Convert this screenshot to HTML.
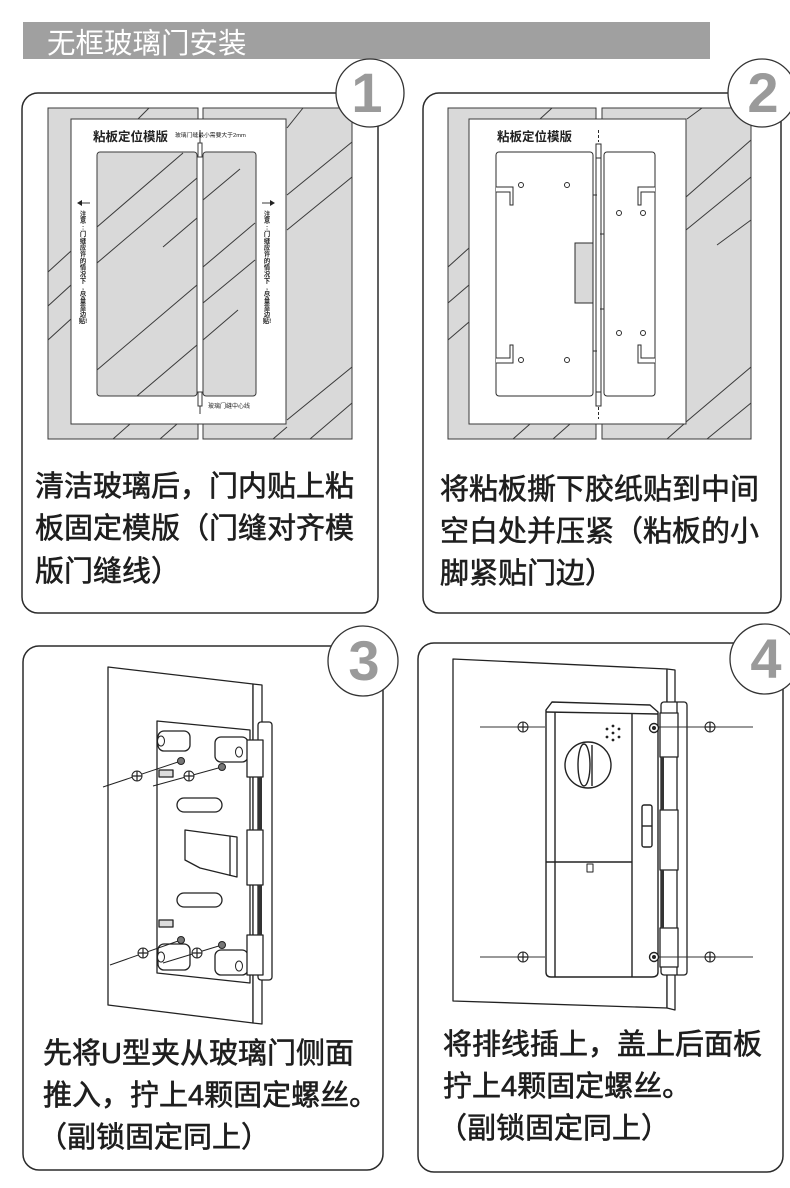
<!DOCTYPE html>
<html><head><meta charset="utf-8">
<style>
html,body{margin:0;padding:0;background:#fff;}
svg{display:block;}
.t{font-family:"Liberation Sans","Noto Sans CJK SC",sans-serif;font-size:29px;fill:#1e1e1e;stroke:#1e1e1e;stroke-width:0.6;}
.num{font-family:"Liberation Sans",sans-serif;font-weight:bold;font-size:56px;fill:#9a9a9a;text-anchor:middle;}
.sm{font-family:"Liberation Sans","Noto Sans CJK SC",sans-serif;fill:#222;}
</style></head><body>
<svg width="790" height="1188" viewBox="0 0 790 1188" xmlns="http://www.w3.org/2000/svg">
<rect width="790" height="1188" fill="#fff"/>

<!-- Header -->
<rect x="23" y="22" width="687" height="37" fill="#a0a0a0"/>
<text x="47" y="53" font-size="28.5" fill="#fff" font-family="Liberation Sans, Noto Sans CJK SC, sans-serif">无框玻璃门安装</text>

<!-- ============ PANEL 1 drawing ============ -->
<g stroke="#3a3a3a" stroke-width="1">
  <rect x="48" y="108" width="150" height="331" fill="#d9d9d9"/>
  <rect x="203" y="108" width="149" height="331" fill="#d9d9d9"/>
</g>
<g stroke="#3a3a3a" stroke-width="1" fill="none">
  <line x1="138" y1="119" x2="149" y2="108"/>
  <line x1="287" y1="128" x2="303" y2="108"/>
  <line x1="287" y1="195" x2="352" y2="142"/>
  <line x1="287" y1="230" x2="352" y2="177"/>
  <line x1="287" y1="420" x2="352" y2="367"/>
  <line x1="310" y1="439" x2="352" y2="403"/>
  <line x1="273" y1="439" x2="287" y2="427"/>
  <line x1="48" y1="272" x2="71" y2="251"/>
  <line x1="48" y1="306" x2="71" y2="285"/>
  <line x1="48" y1="340" x2="71" y2="319"/>
  <line x1="113" y1="439" x2="130" y2="424"/>
  <line x1="160" y1="439" x2="177" y2="424"/>
</g>
<rect x="71" y="119" width="215" height="305" fill="#fff" stroke="#3a3a3a" stroke-width="1"/>
<g stroke="#3a3a3a" stroke-width="1" fill="#d9d9d9">
  <rect x="97" y="152" width="100" height="244" rx="3"/>
  <rect x="203" y="152" width="53" height="244" rx="3"/>
</g>
<g stroke="#3a3a3a" stroke-width="1" fill="none">
  <line x1="97" y1="227" x2="183" y2="153"/>
  <line x1="97" y1="263" x2="197" y2="178"/>
  <line x1="163" y1="247" x2="197" y2="218"/>
  <line x1="97" y1="370" x2="197" y2="285"/>
  <line x1="137" y1="396" x2="197" y2="345"/>
  <line x1="203" y1="267" x2="255" y2="223"/>
  <line x1="203" y1="303" x2="255" y2="260"/>
  <line x1="203" y1="340" x2="238" y2="310"/>
  <line x1="203" y1="200" x2="240" y2="169"/>
  <line x1="200" y1="130" x2="200" y2="143"/>
  <rect x="198" y="143" width="4" height="14" fill="#fff"/>
  <rect x="198" y="392" width="4" height="14" fill="#fff"/>
  <line x1="200" y1="406" x2="200" y2="414"/>
  <line x1="79" y1="203" x2="90" y2="203"/>
  <line x1="262" y1="203" x2="273" y2="203"/>
</g>
<path d="M77,203 L82,200 L82,206 Z" fill="#222"/>
<path d="M275,203 L270,200 L270,206 Z" fill="#222"/>
<text class="sm" x="93" y="141" font-size="12.5" font-weight="bold">粘板定位模版</text>
<text class="sm" x="175" y="137" font-size="5.8">玻璃门缝最小需要大于2mm</text>
<text class="sm" x="208" y="408" font-size="6">玻璃门缝中心线</text>
<text class="sm" font-size="6.3" font-weight="bold" text-anchor="middle">
  <tspan x="83" y="216">注</tspan><tspan x="83" dy="6.7">意</tspan><tspan x="83" dy="6.7">:</tspan><tspan x="83" dy="6.7">门</tspan><tspan x="83" dy="6.7">缝</tspan><tspan x="83" dy="6.7">应</tspan><tspan x="83" dy="6.7">许</tspan><tspan x="83" dy="6.7">的</tspan><tspan x="83" dy="6.7">情</tspan><tspan x="83" dy="6.7">况</tspan><tspan x="83" dy="6.7">下</tspan><tspan x="83" dy="6.7">,</tspan><tspan x="83" dy="6.7">尽</tspan><tspan x="83" dy="6.7">量</tspan><tspan x="83" dy="6.7">靠</tspan><tspan x="83" dy="6.7">边</tspan><tspan x="83" dy="6.7">贴!</tspan>
</text>
<text class="sm" font-size="6.3" font-weight="bold" text-anchor="middle">
  <tspan x="267" y="216">注</tspan><tspan x="267" dy="6.7">意</tspan><tspan x="267" dy="6.7">:</tspan><tspan x="267" dy="6.7">门</tspan><tspan x="267" dy="6.7">缝</tspan><tspan x="267" dy="6.7">应</tspan><tspan x="267" dy="6.7">许</tspan><tspan x="267" dy="6.7">的</tspan><tspan x="267" dy="6.7">情</tspan><tspan x="267" dy="6.7">况</tspan><tspan x="267" dy="6.7">下</tspan><tspan x="267" dy="6.7">,</tspan><tspan x="267" dy="6.7">尽</tspan><tspan x="267" dy="6.7">量</tspan><tspan x="267" dy="6.7">靠</tspan><tspan x="267" dy="6.7">边</tspan><tspan x="267" dy="6.7">贴!</tspan>
</text>

<!-- ============ PANEL 2 drawing ============ -->
<g stroke="#3a3a3a" stroke-width="1">
  <rect x="448" y="108" width="148" height="331" fill="#d9d9d9"/>
  <rect x="602" y="108" width="149" height="331" fill="#d9d9d9"/>
</g>
<g stroke="#3a3a3a" stroke-width="1" fill="none">
  <line x1="448" y1="267" x2="469" y2="248"/>
  <line x1="448" y1="303" x2="469" y2="285"/>
  <line x1="448" y1="340" x2="469" y2="322"/>
  <line x1="540" y1="119" x2="552" y2="108"/>
  <line x1="513" y1="439" x2="530" y2="424"/>
  <line x1="553" y1="439" x2="570" y2="424"/>
  <line x1="687" y1="119" x2="702" y2="108"/>
  <line x1="686" y1="197" x2="751" y2="140"/>
  <line x1="686" y1="230" x2="751" y2="177"/>
  <line x1="717" y1="245" x2="751" y2="220"/>
  <line x1="667" y1="439" x2="684" y2="424"/>
  <line x1="686" y1="422" x2="751" y2="367"/>
  <line x1="707" y1="439" x2="751" y2="403"/>
</g>
<rect x="469" y="119" width="217" height="305" fill="#fff" stroke="#3a3a3a" stroke-width="1"/>
<text class="sm" x="497" y="141" font-size="12.5" font-weight="bold">粘板定位模版</text>
<g stroke="#2b2b2b" stroke-width="1" fill="#fff">
  <rect x="496" y="152" width="97" height="244" rx="3"/>
  <rect x="575" y="243" width="18" height="60" fill="#d9d9d9"/>
  <rect x="604" y="152" width="51" height="244" rx="3"/>
</g>
<g stroke="#2b2b2b" stroke-width="1" fill="none">
  <polyline points="496,187 513,187 513,205 510,205 510,192 496,192" fill="#fff"/>
  <polyline points="496,363 513,363 513,345 510,345 510,358 496,358" fill="#fff"/>
  <polyline points="655,187 638,187 638,205 641,205 641,192 655,192" fill="#fff"/>
  <polyline points="655,363 638,363 638,345 641,345 641,358 655,358" fill="#fff"/>
  <circle cx="521" cy="185" r="2.5"/><circle cx="567" cy="185" r="2.5"/>
  <circle cx="521" cy="360" r="2.5"/><circle cx="567" cy="360" r="2.5"/>
  <circle cx="619" cy="213" r="2.5"/><circle cx="643" cy="213" r="2.5"/>
  <circle cx="619" cy="333" r="2.5"/><circle cx="643" cy="333" r="2.5"/>
  <line x1="596" y1="158" x2="596" y2="392"/>
  <line x1="601" y1="158" x2="601" y2="392"/>
  <line x1="593" y1="195" x2="597" y2="195"/>
  <line x1="600" y1="234" x2="604" y2="234"/>
  <line x1="600" y1="309" x2="604" y2="309"/>
  <line x1="593" y1="351" x2="597" y2="351"/>
  <rect x="596" y="144" width="5" height="14" fill="#fff"/>
  <rect x="596" y="392" width="5" height="14" fill="#fff"/>
  <line x1="598.5" y1="130" x2="598.5" y2="142" stroke-dasharray="3,2"/>
  <line x1="598.5" y1="407" x2="598.5" y2="419" stroke-dasharray="3,2"/>
</g>

<!-- ============ PANEL 3 drawing ============ -->
<g stroke="#222" stroke-width="1.3" fill="#fff" stroke-linejoin="round">
  <polygon points="108,667 253,684 253,1023 108,1005"/>
  <polygon points="253,684 262,685 262,1024 253,1023"/>
  <polygon points="157,721 250,730 250,983 157,973"/>
  <rect x="158" y="731" width="32" height="20" rx="6"/>
  <rect x="215" y="737" width="33" height="25" rx="6"/>
  <rect x="158" y="944" width="32" height="26" rx="6"/>
  <rect x="215" y="950" width="33" height="25" rx="6"/>
  <rect x="177" y="798" width="45" height="14" rx="7"/>
  <rect x="177" y="893" width="45" height="14" rx="7"/>
  <polygon points="185,830 237,837 237,877 200,868 185,860"/>
  <line x1="230" y1="836" x2="230" y2="876"/>
  <rect x="159" y="770" width="14" height="7" fill="#ddd"/>
  <rect x="159" y="920" width="14" height="7" fill="#ddd"/>
  <rect x="258" y="722" width="14" height="258" rx="3"/>
  <rect x="247" y="740" width="16" height="37"/>
  <rect x="247" y="830" width="16" height="55"/>
  <rect x="247" y="935" width="16" height="40"/>
</g>
<g fill="#333">
  <rect x="258" y="777" width="4" height="53"/>
  <rect x="258" y="885" width="4" height="50"/>
</g>
<g stroke="#222" stroke-width="1" fill="#fff">
  <ellipse cx="161" cy="741" rx="3.5" ry="5"/><ellipse cx="239" cy="752" rx="3.5" ry="5"/>
  <ellipse cx="161" cy="957" rx="3.5" ry="5"/><ellipse cx="239" cy="966" rx="3.5" ry="5"/>
  <line x1="103" y1="787" x2="181" y2="761"/>
  <line x1="153" y1="786" x2="222" y2="767"/>
  <line x1="110" y1="965" x2="181" y2="940"/>
  <line x1="163" y1="963" x2="222" y2="945"/>
  <circle cx="181" cy="761" r="3.5" fill="#777"/>
  <circle cx="222" cy="767" r="3.5" fill="#777"/>
  <circle cx="181" cy="940" r="3.5" fill="#777"/>
  <circle cx="222" cy="945" r="3.5" fill="#777"/>
  <circle cx="137" cy="776" r="5"/><circle cx="189" cy="776" r="5"/>
  <circle cx="143" cy="953" r="5"/><circle cx="197" cy="953" r="5"/>
</g>
<g stroke="#222" stroke-width="1.2">
  <path d="M132,776 H142 M137,771 V781"/>
  <path d="M184,776 H194 M189,771 V781"/>
  <path d="M138,953 H148 M143,948 V958"/>
  <path d="M192,953 H202 M197,948 V958"/>
</g>

<!-- ============ PANEL 4 drawing ============ -->
<g stroke="#222" stroke-width="1.3" fill="#fff" stroke-linejoin="round">
  <polygon points="453,659 667,669 667,1008 453,1001"/>
  <polygon points="667,669 675,670 675,1010 667,1008"/>
  <rect x="661" y="702" width="26" height="273" rx="3"/>
  <line x1="677" y1="702" x2="677" y2="975"/>
  <rect x="660" y="713" width="18" height="44"/>
  <rect x="660" y="810" width="18" height="60"/>
  <rect x="660" y="928" width="18" height="39"/>
</g>
<g fill="#333">
  <rect x="661" y="757" width="3" height="53"/>
  <rect x="661" y="870" width="3" height="58"/>
</g>
<g stroke="#222" stroke-width="1.4" fill="#fff" stroke-linejoin="round">
  <path d="M546,710 L552,702 L650,705 L658,712 L658,972 Q658,977 652,977 L551,977 Q546,977 546,972 Z"/>
  <line x1="546" y1="712" x2="658" y2="714"/>
  <line x1="555" y1="712" x2="555" y2="977"/>
  <line x1="632" y1="714" x2="632" y2="977"/>
  <line x1="546" y1="862" x2="632" y2="862"/>
  <circle cx="588" cy="765" r="23"/>
  <ellipse cx="584" cy="765" rx="6" ry="21"/>
  <line x1="592" y1="745" x2="592" y2="786"/>
  <rect x="642" y="805" width="10" height="42" rx="2"/>
  <line x1="642" y1="826" x2="652" y2="826"/>
  <circle cx="654" cy="728" r="4.5"/>
  <circle cx="654" cy="957" r="4.5"/>
  <rect x="587" y="864" width="6" height="8" stroke-width="1"/>
</g>
<g fill="#222">
  <circle cx="613" cy="733" r="1.4"/>
  <circle cx="613" cy="726" r="1.4"/><circle cx="613" cy="740" r="1.4"/>
  <circle cx="607" cy="729" r="1.4"/><circle cx="619" cy="729" r="1.4"/>
  <circle cx="607" cy="737" r="1.4"/><circle cx="619" cy="737" r="1.4"/>
  <circle cx="654" cy="728" r="2"/><circle cx="654" cy="957" r="2"/>
</g>
<g stroke="#333" stroke-width="1">
  <line x1="480" y1="727" x2="545" y2="727"/>
  <line x1="480" y1="957" x2="545" y2="957"/>
  <line x1="659" y1="727" x2="753" y2="727"/>
  <line x1="659" y1="957" x2="753" y2="957"/>
</g>
<g stroke="#222" stroke-width="1" fill="#fff">
  <circle cx="523" cy="727" r="5"/><circle cx="523" cy="957" r="5"/>
  <circle cx="710" cy="727" r="5"/><circle cx="710" cy="957" r="5"/>
</g>
<g stroke="#222" stroke-width="1.2">
  <path d="M518,727 H528 M523,722 V732"/>
  <path d="M518,957 H528 M523,952 V962"/>
  <path d="M705,727 H715 M710,722 V732"/>
  <path d="M705,957 H715 M710,952 V962"/>
</g>

<!-- ============ Panel frames ============ -->
<g fill="none" stroke="#2b2b2b" stroke-width="1.5">
  <rect x="22" y="93" width="356" height="520" rx="16"/>
  <rect x="423" y="93" width="358" height="520" rx="16"/>
  <rect x="23" y="646" width="360" height="524" rx="16"/>
  <rect x="418" y="643" width="365" height="529" rx="16"/>
</g>

<!-- Number circles -->
<g fill="#fff" stroke="#333" stroke-width="1.3">
  <circle cx="370" cy="93" r="34"/>
  <circle cx="762" cy="93" r="34"/>
  <circle cx="363" cy="661" r="35"/>
  <circle cx="765" cy="659" r="35"/>
</g>
<text class="num" x="367" y="112">1</text>
<text class="num" x="763" y="112">2</text>
<text class="num" x="364" y="680">3</text>
<text class="num" x="766" y="678">4</text>

<!-- Captions -->
<text class="t" x="35" y="496">清洁玻璃后，门内贴上粘</text>
<text class="t" x="35" y="538">板固定模版（门缝对齐模</text>
<text class="t" x="35" y="581">版门缝线）</text>

<text class="t" x="440" y="499">将粘板撕下胶纸贴到中间</text>
<text class="t" x="440" y="541">空白处并压紧（粘板的小</text>
<text class="t" x="440" y="583">脚紧贴门边）</text>

<text class="t" x="43" y="1063">先将U型夹从玻璃门侧面</text>
<text class="t" x="43" y="1105">推入，拧上4颗固定螺丝。</text>
<text class="t" x="38" y="1147">（副锁固定同上）</text>

<text class="t" x="443" y="1054">将排线插上，盖上后面板</text>
<text class="t" x="443" y="1096">拧上4颗固定螺丝。</text>
<text class="t" x="438" y="1138">（副锁固定同上）</text>
</svg>
</body></html>
